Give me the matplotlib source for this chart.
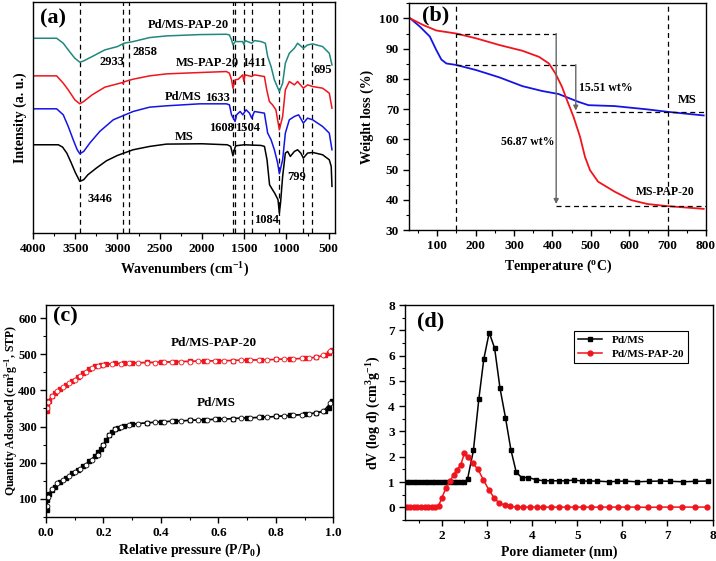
import numpy as np
import matplotlib
matplotlib.use('Agg')
import matplotlib.pyplot as plt
from matplotlib.ticker import MultipleLocator

plt.rcParams['font.family'] = 'serif'
plt.rcParams['font.serif'] = ['Liberation Serif', 'DejaVu Serif']
plt.rcParams['font.weight'] = 'bold'
plt.rcParams['axes.labelweight'] = 'bold'
plt.rcParams['mathtext.fontset'] = 'custom'
plt.rcParams['mathtext.rm'] = 'Liberation Serif:bold'
plt.rcParams['mathtext.it'] = 'Liberation Serif:bold:italic'
plt.rcParams['mathtext.bf'] = 'Liberation Serif:bold'
plt.rcParams['mathtext.default'] = 'rm'

# ---------------- (a) FTIR spectra ----------------
ms_wn = [4000, 3700, 3650, 3600, 3550, 3500, 3446, 3400, 3350, 3250, 3130, 3000, 2815, 2620,
         2420, 2000, 1700, 1660, 1633, 1610, 1600, 1500, 1400, 1300, 1260, 1230, 1200, 1165,
         1140, 1100, 1084, 1070, 1045, 1013, 986, 954, 906, 868, 830, 800, 750, 690, 572,
         493, 470, 461]
ms_int = [2.65, 2.65, 2.58, 2.40, 2.12, 1.82, 1.55, 1.60, 1.75, 1.95, 2.17, 2.33, 2.50, 2.60,
          2.67, 2.68, 2.65, 2.60, 2.32, 2.55, 2.62, 2.65, 2.64, 2.63, 2.60, 2.20, 1.45, 1.30,
          1.20, 1.00, 0.60, 0.90, 1.70, 2.40, 2.45, 2.30, 2.45, 2.50, 2.40, 2.25, 2.40, 2.42,
          2.35, 2.20, 2.00, 1.40]

pdms_wn = [4000, 3720, 3642, 3583, 3524, 3477, 3446, 3400, 3328, 3210, 3050, 2815, 2620, 2420,
           2026, 1711, 1675, 1650, 1608, 1590, 1548, 1517, 1478, 1438, 1411, 1379, 1261, 1222,
           1182, 1143, 1104, 1084, 1045, 1013, 966, 906, 856, 800, 750, 690, 572, 493, 461]
pdms_int = [3.73, 3.73, 3.55, 3.20, 2.80, 2.50, 2.38, 2.45, 2.70, 3.05, 3.40, 3.65, 3.78, 3.82,
            3.88, 3.88, 3.85, 3.55, 3.35, 3.55, 3.65, 3.55, 3.70, 3.60, 3.45, 3.65, 3.60, 3.00,
            2.80, 2.50, 2.10, 1.78, 2.20, 3.00, 3.40, 3.50, 3.55, 3.30, 3.45, 3.40, 3.20, 3.00,
            2.50]

pap_wn = [4000, 3720, 3642, 3583, 3505, 3446, 3400, 3300, 3150, 3000, 2940, 2933, 2925, 2815,
          2620, 2420, 2026, 1711, 1675, 1650, 1633, 1607, 1570, 1517, 1504, 1490, 1411, 1379,
          1261, 1233, 1202, 1165, 1125, 1084, 1045, 1013, 966, 906, 868, 800, 750, 690, 572,
          493, 461]
pap_int = [4.72, 4.72, 4.50, 4.30, 4.00, 3.88, 3.95, 4.15, 4.38, 4.48, 4.52, 4.48, 4.54, 4.62,
           4.72, 4.78, 4.82, 4.85, 4.80, 4.60, 4.35, 4.60, 4.62, 4.75, 4.55, 4.75, 4.70, 4.75,
           4.70, 4.30, 3.95, 3.85, 3.70, 3.10, 3.50, 4.30, 4.55, 4.45, 4.55, 4.35, 4.45, 4.40,
           4.35, 4.20, 3.75]

pdpap_wn = [4000, 3720, 3642, 3583, 3505, 3446, 3400, 3300, 3150, 3000, 2940, 2933, 2925, 2815,
            2620, 2420, 2026, 1711, 1675, 1650, 1633, 1607, 1550, 1517, 1504, 1490, 1411, 1379,
            1300, 1250, 1222, 1182, 1143, 1084, 1045, 1013, 966, 906, 868, 800, 750, 690, 572,
            493, 461]
pdpap_int = [5.85, 5.85, 5.70, 5.50, 5.25, 5.13, 5.17, 5.30, 5.50, 5.60, 5.68, 5.62, 5.70, 5.75,
             5.87, 5.92, 5.96, 5.97, 5.95, 5.80, 5.65, 5.75, 5.75, 5.75, 5.65, 5.78, 5.70, 5.78,
             5.75, 5.70, 5.30, 5.00, 4.60, 4.25, 4.50, 5.10, 5.40, 5.55, 5.70, 5.55, 5.65, 5.68,
             5.60, 5.40, 5.05]

peak_lines = [3446, 2933, 2858, 1633, 1608, 1504, 1411, 1084, 799, 695]

# ---------------- (b) TGA ----------------
tga_ms_t = [30, 55, 81, 98, 111, 124, 150, 202, 262, 322, 373, 416, 434, 468, 494, 562, 648, 700, 794]
tga_ms_w = [100, 97.3, 94.0, 89.5, 86.4, 85.1, 84.6, 82.9, 80.5, 77.6, 76.0, 75.0, 74.1, 72.4,
            71.3, 71.0, 69.9, 69.1, 67.9]
tga_pap_t = [30, 64, 98, 150, 202, 262, 322, 365, 391, 408, 425, 438, 455, 472, 485, 498, 519,
             562, 605, 648, 700, 794]
tga_pap_w = [100, 97.8, 96.0, 95.0, 93.4, 91.2, 89.3, 87.3, 85.1, 81.8, 77.4, 73.0, 67.5, 60.9,
             54.2, 49.8, 46.0, 42.7, 39.9, 38.6, 37.9, 37.0]

# ---------------- (c) N2 isotherms ----------------
ads_p = [0.002, 0.005, 0.01, 0.02, 0.03, 0.05, 0.07, 0.09, 0.11, 0.13, 0.15, 0.17, 0.18, 0.19,
         0.20, 0.21, 0.22, 0.23, 0.24, 0.25, 0.27, 0.30, 0.35, 0.40, 0.45, 0.50, 0.55, 0.60,
         0.65, 0.70, 0.75, 0.80, 0.85, 0.90, 0.94, 0.97, 0.985, 0.995]
pdms_ads = [68, 95, 112, 125, 133, 147, 158, 170, 180, 190, 203, 218, 228, 238, 250, 263, 276,
            286, 293, 297, 302, 306, 310, 313, 315, 317, 319, 320, 322, 324, 326, 328, 331, 334,
            338, 344, 352, 372]
des_p = [0.99, 0.965, 0.94, 0.915, 0.89, 0.86, 0.83, 0.80, 0.77, 0.74, 0.71, 0.68, 0.65, 0.62,
         0.59, 0.56, 0.53, 0.50, 0.47, 0.44, 0.41, 0.38, 0.35, 0.32, 0.29, 0.26, 0.24, 0.22,
         0.20, 0.18, 0.16, 0.14, 0.12, 0.10, 0.08, 0.06, 0.04, 0.02, 0.008, 0.003]
pdms_des = [365, 342, 337, 335, 333, 331, 329, 328, 326, 325, 324, 323, 322, 321, 320, 319, 318,
            317, 316, 315, 313, 312, 310, 308, 305, 300, 292, 276, 250, 222, 206, 194, 183, 173,
            163, 153, 142, 128, 105, 80]
pap_ads_p = [0.002, 0.005, 0.01, 0.02, 0.03, 0.05, 0.07, 0.09, 0.11, 0.13, 0.15, 0.17, 0.19,
             0.21, 0.24, 0.27, 0.30, 0.35, 0.40, 0.45, 0.50, 0.55, 0.60, 0.65, 0.70, 0.75, 0.80,
             0.85, 0.90, 0.94, 0.97, 0.985, 0.995]
pdpap_ads = [342, 358, 372, 385, 393, 405, 416, 426, 437, 449, 460, 467, 471, 473, 475, 476, 477,
             478, 479, 480, 481, 482, 482, 483, 484, 485, 486, 487, 489, 492, 497, 503, 511]
pap_des_p = [0.99, 0.965, 0.94, 0.915, 0.89, 0.86, 0.83, 0.80, 0.77, 0.74, 0.71, 0.68, 0.65,
             0.62, 0.59, 0.56, 0.53, 0.50, 0.47, 0.44, 0.41, 0.38, 0.35, 0.32, 0.29, 0.26, 0.23,
             0.20, 0.18, 0.16, 0.14, 0.12, 0.10, 0.08, 0.06, 0.04, 0.02, 0.008, 0.003]
pdpap_des = [508, 497, 492, 490, 489, 488, 487, 486, 485, 485, 484, 484, 483, 483, 482, 482, 481,
             480, 480, 479, 478, 477, 477, 476, 475, 474, 473, 471, 468, 462, 452, 440, 430, 420,
             410, 398, 385, 368, 350]

# ---------------- (d) pore size distribution ----------------
psd_ms_d = [1.22, 1.30, 1.38, 1.46, 1.54, 1.62, 1.70, 1.78, 1.86, 1.94, 2.02, 2.10, 2.18, 2.26,
            2.34, 2.42, 2.50, 2.57, 2.70, 2.82, 2.93, 3.05, 3.17, 3.29, 3.41, 3.53, 3.65, 3.77,
            3.92, 4.09, 4.26, 4.43, 4.60, 4.76, 4.93, 5.10, 5.27, 5.43, 5.71, 5.88, 6.05, 6.32,
            6.60, 6.84, 7.06, 7.35, 7.62, 7.89]
psd_ms_v = [1.0, 1.0, 1.0, 1.0, 1.0, 1.0, 1.0, 1.0, 1.0, 1.0, 1.0, 1.0, 1.0, 1.0,
            1.0, 1.0, 1.0, 1.12, 2.25, 4.28, 5.86, 6.91, 6.29, 4.70, 3.55, 2.28, 1.38, 1.18,
            1.18, 1.09, 1.05, 1.05, 1.05, 1.05, 1.08, 1.04, 1.04, 1.04, 1.01, 1.03, 1.04, 1.01,
            1.03, 1.04, 1.03, 1.01, 1.03, 1.04]
psd_pap_d = [1.22, 1.30, 1.38, 1.46, 1.54, 1.62, 1.70, 1.78, 1.86, 1.93, 2.00, 2.09, 2.18, 2.26,
             2.34, 2.42, 2.50, 2.58, 2.68, 2.80, 2.92, 3.04, 3.16, 3.27, 3.40, 3.52, 3.66, 3.80,
             3.95, 4.10, 4.25, 4.42, 4.60, 4.77, 4.95, 5.12, 5.30, 5.50, 5.70, 5.90, 6.10, 6.33,
             6.57, 6.82, 7.06, 7.33, 7.60, 7.88]
psd_pap_v = [0.0, 0.0, 0.0, 0.0, 0.0, 0.0, 0.0, 0.0, 0.0, 0.07, 0.37, 0.76, 1.03, 1.29,
             1.49, 1.68, 2.14, 2.01, 1.75, 1.51, 1.09, 0.70, 0.37, 0.17, 0.08, 0.04, 0.01, 0.01,
             0.01, 0.01, 0.01, 0.01, 0.01, 0.01, 0.01, 0.01, 0.01, 0.01, 0.01, 0.01, 0.01, 0.01,
             0.0, 0.01, 0.01, 0.01, 0.01, 0.01]

teal = '#21877f'
red = '#f0141c'
blue = '#1414e6'
dash = (0, (4, 3))
label_fs = 10

fig = plt.figure(figsize=(7.16, 5.61), dpi=100)
ax_a = fig.add_axes([0.0461, 0.5847, 0.4218, 0.4118])
ax_b = fig.add_axes([0.5719, 0.5900, 0.4141, 0.4041])
ax_c = fig.add_axes([0.0642, 0.0790, 0.4013, 0.3774])
ax_d = fig.add_axes([0.5660, 0.0731, 0.4293, 0.3832])

for ax in (ax_a, ax_b, ax_c, ax_d):
    ax.tick_params(axis='both', which='major', labelsize=9.5, length=4, width=1, direction='out')
    ax.tick_params(axis='both', which='minor', length=2.5, width=0.8, direction='out')
    for s in ax.spines.values():
        s.set_linewidth(1.0)

# (a)
for w in peak_lines:
    ax_a.axvline(w, color='k', lw=0.9, ls=dash)
ax_a.plot(ms_wn, ms_int, color='k', lw=1.1)
ax_a.plot(pdms_wn, pdms_int, color=blue, lw=1.1)
ax_a.plot(pap_wn, pap_int, color=red, lw=1.1)
ax_a.plot(pdpap_wn, pdpap_int, color=teal, lw=1.1)
ax_a.set_xlim(4000, 425)
ax_a.set_ylim(0, 6.94)
ax_a.xaxis.set_major_locator(MultipleLocator(500))
ax_a.xaxis.set_minor_locator(MultipleLocator(250))
ax_a.set_yticks([])
ax_a.set_xlabel('Wavenumbers (cm$^{-1}$)', fontsize=label_fs)
ax_a.set_ylabel('Intensity (a. u.)', fontsize=label_fs)
for txt, x, y in [('Pd/MS-PAP-20', 2166, 6.25), ('2933', 3065, 5.14), ('2858', 2675, 5.44),
                  ('MS-PAP-20', 1935, 5.11), ('1411', 1380, 5.11), ('695', 568, 4.90),
                  ('Pd/MS', 2225, 4.09), ('1633', 1811, 4.06), ('1608', 1770, 3.16),
                  ('1504', 1455, 3.16), ('MS', 2213, 2.89), ('799', 876, 1.69),
                  ('3446', 3207, 1.03), ('1084', 1231, 0.40)]:
    ax_a.text(x, y, txt, fontsize=9, ha='center', va='center')
ax_a.text(3763, 6.43, '(a)', fontsize=16, ha='center', va='center')

# (b)
ax_b.axvline(150, color='k', lw=0.9, ls=dash)
ax_b.axvline(700, color='k', lw=0.9, ls=dash)
ax_b.plot(tga_ms_t, tga_ms_w, color=blue, lw=1.3)
ax_b.plot(tga_pap_t, tga_pap_w, color=red, lw=1.3)
ax_b.plot([150, 410], [95, 95], color='k', lw=0.9, ls=dash)
ax_b.plot([410, 800], [37.9, 37.9], color='k', lw=0.9, ls=dash)
ax_b.plot([150, 461], [84.7, 84.7], color='k', lw=0.9, ls=dash)
ax_b.plot([461, 800], [68.9, 68.9], color='k', lw=0.9, ls=dash)
arrow = dict(arrowstyle='-|>', color='0.4', lw=1.0, mutation_scale=7, shrinkA=0, shrinkB=0)
ax_b.annotate('', xy=(410, 38.6), xytext=(410, 95), arrowprops=arrow)
ax_b.annotate('', xy=(461, 69.5), xytext=(461, 84.7), arrowprops=arrow)
ax_b.set_xlim(28, 800)
ax_b.set_ylim(30, 105)
ax_b.xaxis.set_major_locator(MultipleLocator(100))
ax_b.xaxis.set_minor_locator(MultipleLocator(50))
ax_b.yaxis.set_major_locator(MultipleLocator(10))
ax_b.yaxis.set_minor_locator(MultipleLocator(5))
ax_b.set_xlabel('Temperature ($^{o}$C)', fontsize=label_fs)
ax_b.set_ylabel('Weight loss (%)', fontsize=label_fs)
ax_b.text(97, 101, '(b)', fontsize=16, ha='center', va='center')
ax_b.text(539, 76.9, '15.51 wt%', fontsize=8.5, ha='center', va='center')
ax_b.text(750, 73.0, 'MS', fontsize=9, ha='center', va='center')
ax_b.text(337, 59.2, '56.87 wt%', fontsize=8.5, ha='center', va='center')
ax_b.text(694, 42.7, 'MS-PAP-20', fontsize=8.5, ha='center', va='center')

# (c)
ax_c.plot(ads_p, pdms_ads, color='k', lw=1.0, marker='s', ms=2.5)
ax_c.plot(des_p, pdms_des, color='k', lw=1.0, marker='o', ms=3.5, mfc='white', mew=0.6)
ax_c.plot(pap_ads_p, pdpap_ads, color=red, lw=1.0, marker='s', ms=2.5)
ax_c.plot(pap_des_p, pdpap_des, color=red, lw=1.0, marker='o', ms=3.5, mfc='white', mew=0.6)
ax_c.set_xlim(0, 1)
ax_c.set_ylim(50, 637)
ax_c.xaxis.set_major_locator(MultipleLocator(0.2))
ax_c.xaxis.set_minor_locator(MultipleLocator(0.1))
ax_c.yaxis.set_major_locator(MultipleLocator(100))
ax_c.yaxis.set_minor_locator(MultipleLocator(50))
ax_c.tick_params(axis='y', which='major', labelsize=9, pad=2.5)
ax_c.set_xlabel('Relative pressure (P/P$_{0}$)', fontsize=label_fs, labelpad=2)
ax_c.set_ylabel('Quantity Adsorbed (cm$^{3}$g$^{-1}$, STP)', fontsize=8.5)
ax_c.yaxis.set_label_coords(-0.092, 0.5)
ax_c.text(0.068, 604, '(c)', fontsize=16, ha='center', va='center')
ax_c.text(0.585, 532, 'Pd/MS-PAP-20', fontsize=9.5, ha='center', va='center')
ax_c.text(0.592, 366, 'Pd/MS', fontsize=9.5, ha='center', va='center')

# (d)
ax_d.plot(psd_ms_d, psd_ms_v, color='k', lw=1.1, marker='s', ms=3.2, label='Pd/MS')
ax_d.plot(psd_pap_d, psd_pap_v, color=red, lw=1.1, marker='o', ms=3.5, label='Pd/MS-PAP-20')
ax_d.set_xlim(1.19, 8)
ax_d.set_ylim(-0.5, 8)
ax_d.xaxis.set_major_locator(MultipleLocator(1))
ax_d.xaxis.set_minor_locator(MultipleLocator(0.5))
ax_d.yaxis.set_major_locator(MultipleLocator(1))
ax_d.yaxis.set_minor_locator(MultipleLocator(0.5))
ax_d.set_xlabel('Pore diameter (nm)', fontsize=label_fs, labelpad=2)
ax_d.set_ylabel('dV (log d) (cm$^{3}$g$^{-1}$)', fontsize=label_fs)
ax_d.text(1.76, 7.33, '(d)', fontsize=16, ha='center', va='center')
leg = ax_d.legend(loc='upper right', bbox_to_anchor=(0.939, 0.907), fontsize=8,
                  fancybox=False, edgecolor='k', framealpha=1, handlelength=2.2,
                  borderpad=0.4, labelspacing=0.4)
leg.get_frame().set_linewidth(0.8)

fig.savefig('out.png', dpi=100)
